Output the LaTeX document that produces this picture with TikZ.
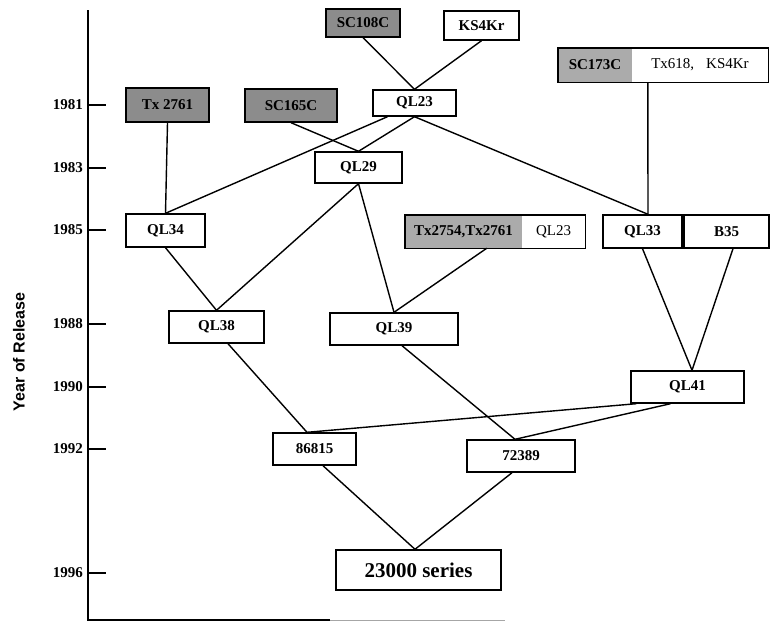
\documentclass[tikz,border=0pt]{standalone}
\usepackage{fontspec}
\setmainfont{Liberation Serif}
\setsansfont{Liberation Sans}
\begin{document}
\begin{tikzpicture}[x=1pt,y=-1pt,
  box/.style={draw, line width=1.4pt, inner sep=0pt, font=\bfseries\fontsize{15}{17}\selectfont, fill=white},
  shade/.style={box, fill=black!45},
  lshade/.style={inner sep=0pt, fill=black!33, font=\bfseries\fontsize{15}{17}\selectfont},
  plain/.style={inner sep=0pt, font=\fontsize{15}{17}\selectfont},
  conn/.style={line width=1.4pt},
  tick/.style={line width=1.8pt},
  yr/.style={anchor=east, inner sep=0pt, font=\bfseries\fontsize{15}{17}\selectfont}]
\useasboundingbox (0,0) rectangle (770,621);
% axis
\coordinate (atop) at (88,10);
\coordinate (aorig) at (88,620);
\coordinate (aend) at (330,620);
\coordinate (agray) at (505,620);
\draw[line width=2pt] (atop) -- (aorig) -- (aend);
\draw[line width=1pt, black!35] (aend) -- (agray);
\foreach \y/\t in {105/1981,168/1983,230/1985,324/1988,387/1990,449/1992,573/1996}{
  \coordinate (t\t) at (88,\y);
  \draw[tick] (t\t) -- ++(18,0);
  \node[yr] (l\t) at (83,\y) {\t};
}
\node[rotate=90, font=\sffamily\bfseries\fontsize{16}{18}\selectfont, inner sep=0pt] (ylab) at (19,352) {Year of Release};
% nodes
\node[shade, minimum width=83, minimum height=34] (tx2761) at (167.5,105) {Tx 2761};
\node[shade, minimum width=92, minimum height=33] (sc165c) at (291,105.5) {SC165C};
\node[shade, minimum width=74, minimum height=28] (sc108c) at (363,23) {SC108C};
\node[box, minimum width=75, minimum height=29] (ks4kr) at (481.5,25.5) {KS4Kr};
\node[box, minimum width=83, minimum height=26] (ql23) at (414.5,103) {QL23};
\node[lshade, minimum width=74, minimum height=34] (sc173c) at (595,65) {SC173C};
\node[plain, minimum width=136, minimum height=34] (tx618) at (700,65) {Tx618,\hspace{12pt}KS4Kr};
\draw[line width=1.4pt] (sc173c.north west) rectangle (tx618.south east);
\node[box, minimum width=87, minimum height=31] (ql29) at (358.5,167.5) {QL29};
\node[box, minimum width=79, minimum height=33] (ql34) at (165.5,230.5) {QL34};
\node[lshade, minimum width=117, minimum height=33] (tx2754) at (463.5,231.5) {Tx2754,Tx2761};
\node[plain, minimum width=63, minimum height=33] (ql23b) at (553.5,231.5) {QL23};
\draw[line width=1.4pt] (tx2754.north west) rectangle (ql23b.south east);
\node[box, minimum width=79, minimum height=33] (ql33) at (642.5,231.5) {QL33};
\node[box, minimum width=85, minimum height=33] (b35) at (726.5,231.5) {B35};
\node[box, minimum width=95, minimum height=32] (ql38) at (216.5,327) {QL38};
\node[box, minimum width=128, minimum height=32] (ql39) at (394,329) {QL39};
\node[box, minimum width=113, minimum height=32] (ql41) at (687.5,387) {QL41};
\node[box, minimum width=83, minimum height=32] (n86815) at (314.5,449) {86815};
\node[box, minimum width=108, minimum height=32] (n72389) at (521,456) {72389};
\node[box, minimum width=165, minimum height=40, font=\bfseries\fontsize{21}{23}\selectfont] (series) at (418.5,570) {23000 series};
% connectors
\begin{scope}[conn]
\draw (tx2761.south) -- (ql34.north);
\draw (sc165c.south) -- (ql29.north);
\draw (sc108c.south) -- (ql23.north);
\draw (ks4kr.south) -- (ql23.north);
\draw ([xshift=-27pt]ql23.south) -- (ql34.north);
\draw (ql23.south) -- (ql29.north);
\draw (ql23.south) -- ([xshift=5.5pt]ql33.north);
\draw ([xshift=16pt]tx618.south west) -- ([xshift=5.5pt]ql33.north);
\draw (ql29.south) -- (ql38.north);
\draw (ql34.south) -- (ql38.north);
\draw (ql29.south) -- (ql39.north);
\draw ([xshift=82pt]tx2754.south west) -- (ql39.north);
\draw ([xshift=11.5pt]ql38.south) -- ([xshift=-7.5pt]n86815.north);
\draw ([xshift=6pt]ql41.south west) -- ([xshift=-7.5pt]n86815.north);
\draw ([xshift=8pt]ql39.south) -- ([xshift=-6pt]n72389.north);
\draw ([xshift=-17pt]ql41.south) -- ([xshift=-6pt]n72389.north);
\draw (ql33.south) -- ([xshift=4.5pt]ql41.north);
\draw ([xshift=6.5pt]b35.south) -- ([xshift=4.5pt]ql41.north);
\draw ([xshift=8.5pt]n86815.south) -- ([xshift=-3.5pt]series.north);
\draw ([xshift=-9pt]n72389.south) -- ([xshift=-3.5pt]series.north);
\end{scope}
\end{tikzpicture}
\end{document}
